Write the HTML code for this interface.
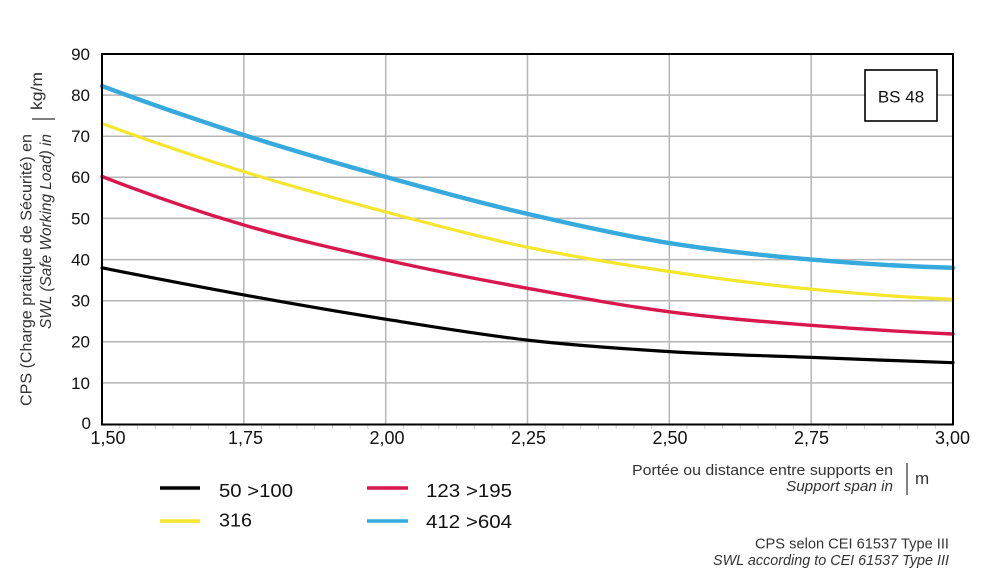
<!DOCTYPE html>
<html>
<head>
<meta charset="utf-8">
<style>
  html,body{margin:0;padding:0;background:#fff;}
  svg{display:block;}
  text{font-family:"Liberation Sans",sans-serif;}
</style>
</head>
<body>
<svg width="1000" height="583" viewBox="0 0 1000 583" xmlns="http://www.w3.org/2000/svg">
  <rect x="0" y="0" width="1000" height="583" fill="#fff"/>

  <!-- gridlines -->
  <g stroke="#b5b5b5" stroke-width="1.5" fill="none">
    <line x1="102" y1="382.9" x2="953" y2="382.9"/>
    <line x1="102" y1="341.8" x2="953" y2="341.8"/>
    <line x1="102" y1="300.7" x2="953" y2="300.7"/>
    <line x1="102" y1="259.6" x2="953" y2="259.6"/>
    <line x1="102" y1="218.4" x2="953" y2="218.4"/>
    <line x1="102" y1="177.3" x2="953" y2="177.3"/>
    <line x1="102" y1="136.2" x2="953" y2="136.2"/>
    <line x1="102" y1="95.1" x2="953" y2="95.1"/>
    <line x1="243.8" y1="54" x2="243.8" y2="424"/>
    <line x1="385.7" y1="54" x2="385.7" y2="424"/>
    <line x1="527.5" y1="54" x2="527.5" y2="424"/>
    <line x1="669.3" y1="54" x2="669.3" y2="424"/>
    <line x1="811.2" y1="54" x2="811.2" y2="424"/>
  </g>

  <!-- minor ticks -->
  <g stroke="#cfcfcf" stroke-width="1">
    <line x1="119.7" y1="425" x2="119.7" y2="429"/><line x1="137.5" y1="425" x2="137.5" y2="429"/><line x1="155.2" y1="425" x2="155.2" y2="429"/><line x1="172.9" y1="425" x2="172.9" y2="429"/><line x1="190.7" y1="425" x2="190.7" y2="429"/><line x1="208.4" y1="425" x2="208.4" y2="429"/><line x1="226.1" y1="425" x2="226.1" y2="429"/>
    <line x1="261.5" y1="425" x2="261.5" y2="429"/><line x1="279.3" y1="425" x2="279.3" y2="429"/><line x1="297.0" y1="425" x2="297.0" y2="429"/><line x1="314.7" y1="425" x2="314.7" y2="429"/><line x1="332.5" y1="425" x2="332.5" y2="429"/><line x1="350.2" y1="425" x2="350.2" y2="429"/><line x1="367.9" y1="425" x2="367.9" y2="429"/>
    <line x1="403.4" y1="425" x2="403.4" y2="429"/><line x1="421.1" y1="425" x2="421.1" y2="429"/><line x1="438.9" y1="425" x2="438.9" y2="429"/><line x1="456.6" y1="425" x2="456.6" y2="429"/><line x1="474.3" y1="425" x2="474.3" y2="429"/><line x1="492.1" y1="425" x2="492.1" y2="429"/><line x1="509.8" y1="425" x2="509.8" y2="429"/>
    <line x1="545.2" y1="425" x2="545.2" y2="429"/><line x1="563.0" y1="425" x2="563.0" y2="429"/><line x1="580.7" y1="425" x2="580.7" y2="429"/><line x1="598.4" y1="425" x2="598.4" y2="429"/><line x1="616.2" y1="425" x2="616.2" y2="429"/><line x1="633.9" y1="425" x2="633.9" y2="429"/><line x1="651.6" y1="425" x2="651.6" y2="429"/>
    <line x1="687.0" y1="425" x2="687.0" y2="429"/><line x1="704.8" y1="425" x2="704.8" y2="429"/><line x1="722.5" y1="425" x2="722.5" y2="429"/><line x1="740.2" y1="425" x2="740.2" y2="429"/><line x1="758.0" y1="425" x2="758.0" y2="429"/><line x1="775.7" y1="425" x2="775.7" y2="429"/><line x1="793.4" y1="425" x2="793.4" y2="429"/>
    <line x1="828.9" y1="425" x2="828.9" y2="429"/><line x1="846.6" y1="425" x2="846.6" y2="429"/><line x1="864.4" y1="425" x2="864.4" y2="429"/><line x1="882.1" y1="425" x2="882.1" y2="429"/><line x1="899.8" y1="425" x2="899.8" y2="429"/><line x1="917.6" y1="425" x2="917.6" y2="429"/><line x1="935.3" y1="425" x2="935.3" y2="429"/>
  </g>

  <!-- series -->
  <g fill="none" stroke-linecap="round" stroke-linejoin="round">
    <path stroke="#000000" stroke-width="3.2" d="M102,267.8 C149.3,277.3 196.5,286.3 243.8,294.9 C291.1,303.5 338.4,311.7 385.7,319.2 C433.0,326.7 480.2,334.7 527.5,340.1 C574.8,345.5 622.0,348.7 669.3,351.6 C716.6,354.5 763.9,355.6 811.2,357.4 C858.5,359.3 905.7,361.0 953,362.7"/>
    <path stroke="#d9174f" stroke-width="3.4" d="M102,176.5 C149.3,194.9 196.5,211.1 243.8,225.0 C291.1,238.9 338.4,249.5 385.7,260.0 C433.0,270.6 480.2,279.7 527.5,288.3 C574.8,296.9 622.0,305.6 669.3,311.8 C716.6,318.0 763.9,321.6 811.2,325.3 C858.5,329.0 905.7,331.9 953,334.0"/>
    <path stroke="#f3e62c" stroke-width="3.2" d="M102,123.5 C149.3,140.8 196.5,156.9 243.8,171.6 C291.1,186.3 338.4,199.3 385.7,211.9 C433.0,224.5 480.2,237.3 527.5,247.2 C574.8,257.1 622.0,264.5 669.3,271.5 C716.6,278.5 763.9,284.6 811.2,289.2 C858.5,293.9 905.7,297.3 953,299.4"/>
    <path stroke="#36a9dd" stroke-width="4.4" d="M102,86.1 C149.3,103.6 196.5,119.9 243.8,135 C291.1,150.1 338.4,163.8 385.7,176.9 C433.0,190.1 480.2,202.9 527.5,213.9 C574.8,224.9 622.0,235.5 669.3,243.1 C716.6,250.7 763.9,255.5 811.2,259.6 C858.5,263.7 905.7,266.5 953,267.8"/>
  </g>

  <!-- frame -->
  <rect x="102" y="54" width="851" height="370.5" fill="none" stroke="#000" stroke-width="2"/>

  <!-- BS 48 box -->
  <rect x="865" y="70" width="72" height="51" fill="#fff" stroke="#000" stroke-width="1.6"/>
  <text x="901" y="102.5" font-size="17" text-anchor="middle" fill="#111">BS 48</text>

  <!-- y tick labels -->
  <g font-size="17" text-anchor="end" fill="#111">
    <text x="90" y="60">90</text>
    <text x="90" y="101">80</text>
    <text x="90" y="142">70</text>
    <text x="90" y="183">60</text>
    <text x="90" y="224.5">50</text>
    <text x="90" y="265.5">40</text>
    <text x="90" y="306.5">30</text>
    <text x="90" y="347.5">20</text>
    <text x="90" y="389">10</text>
    <text x="91" y="429">0</text>
  </g>

  <!-- x tick labels -->
  <g font-size="18" text-anchor="middle" fill="#111">
    <text x="108" y="444">1,50</text>
    <text x="245.5" y="444">1,75</text>
    <text x="387" y="444">2,00</text>
    <text x="528.5" y="444">2,25</text>
    <text x="670" y="444">2,50</text>
    <text x="811.5" y="444">2,75</text>
    <text x="952.5" y="444">3,00</text>
  </g>

  <!-- y axis title -->
  <g fill="#333">
    <text transform="translate(31.5,134) rotate(-90)" font-size="16" text-anchor="end" textLength="272" lengthAdjust="spacingAndGlyphs">CPS (Charge pratique de Sécurité) en</text>
    <text transform="translate(51,134) rotate(-90)" font-size="16" font-style="italic" text-anchor="end" textLength="195" lengthAdjust="spacingAndGlyphs">SWL (Safe Working Load) in</text>
    <line x1="32" y1="119" x2="55" y2="119" stroke="#333" stroke-width="1.2"/>
    <text transform="translate(42,110) rotate(-90)" font-size="16" textLength="38" lengthAdjust="spacingAndGlyphs">kg/m</text>
  </g>

  <!-- x axis title -->
  <g fill="#333" font-size="15">
    <text x="893" y="475" text-anchor="end" textLength="261" lengthAdjust="spacingAndGlyphs">Portée ou distance entre supports en</text>
    <text x="893" y="491" text-anchor="end" font-style="italic" textLength="107" lengthAdjust="spacingAndGlyphs">Support span in</text>
    <line x1="907" y1="463" x2="907" y2="495" stroke="#333" stroke-width="1.2"/>
    <text x="915" y="484" font-size="17">m</text>
  </g>

  <!-- legend -->
  <g stroke-width="3.6">
    <line x1="160" y1="488" x2="200" y2="488" stroke="#000"/>
    <line x1="160" y1="521" x2="200" y2="521" stroke="#f3e62c"/>
    <line x1="367" y1="488" x2="408" y2="488" stroke="#d9174f"/>
    <line x1="367" y1="521" x2="408" y2="521" stroke="#36a9dd"/>
  </g>
  <g font-size="18" fill="#111">
    <text x="219" y="497" textLength="74" lengthAdjust="spacingAndGlyphs">50 &gt;100</text>
    <text x="219" y="526.5" textLength="33" lengthAdjust="spacingAndGlyphs">316</text>
    <text x="426" y="497" textLength="86" lengthAdjust="spacingAndGlyphs">123 &gt;195</text>
    <text x="426" y="528" textLength="86" lengthAdjust="spacingAndGlyphs">412 &gt;604</text>
  </g>

  <!-- notes -->
  <g fill="#333" font-size="15" text-anchor="end">
    <text x="949" y="548.5" textLength="194" lengthAdjust="spacingAndGlyphs">CPS selon CEI 61537 Type III</text>
    <text x="949" y="565" font-style="italic" textLength="236" lengthAdjust="spacingAndGlyphs">SWL according to CEI 61537 Type III</text>
  </g>
</svg>
</body>
</html>
